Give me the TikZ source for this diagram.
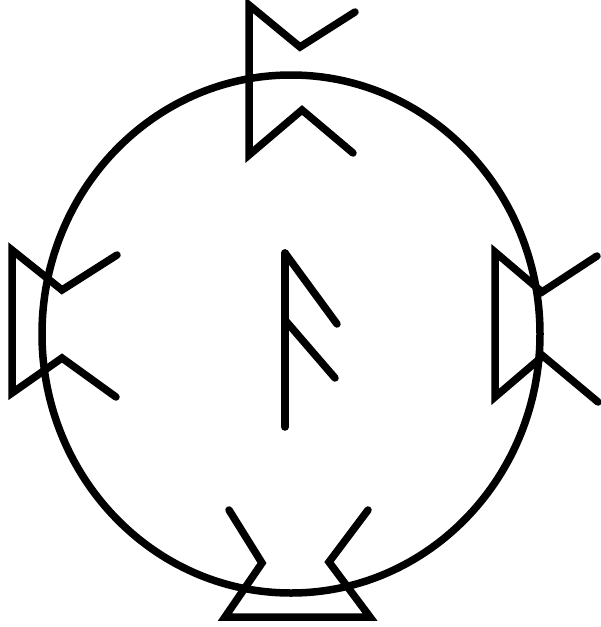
\documentclass[tikz,border=0pt]{standalone}
\usepackage{tikz}

\begin{document}
\begin{tikzpicture}[x=1pt,y=-1pt,line width=7.5pt,line cap=round,line join=miter]
  \useasboundingbox (0,0) rectangle (601,627);
  \draw (291,334) ellipse (249 and 259);
  % top
  \draw (355,12) -- (300,47) -- (249,5) -- (249,155) -- (302,110) -- (353,153);
  % left
  \draw (117,255) -- (62,290) -- (12,250) -- (12,393) -- (62,358) -- (116,397);
  % right
  \draw (597,256) -- (542,292) -- (495,252) -- (495,397) -- (543,356) -- (598,402);
  % bottom
  \draw (229,510) -- (262,563) -- (225,617) -- (370,617) -- (329,562) -- (368,510);
  % centre
  \draw (285,253) -- (285,427);
  \draw (285,253) -- (337,324);
  \draw (285,320) -- (335,378);
\end{tikzpicture}
\end{document}
